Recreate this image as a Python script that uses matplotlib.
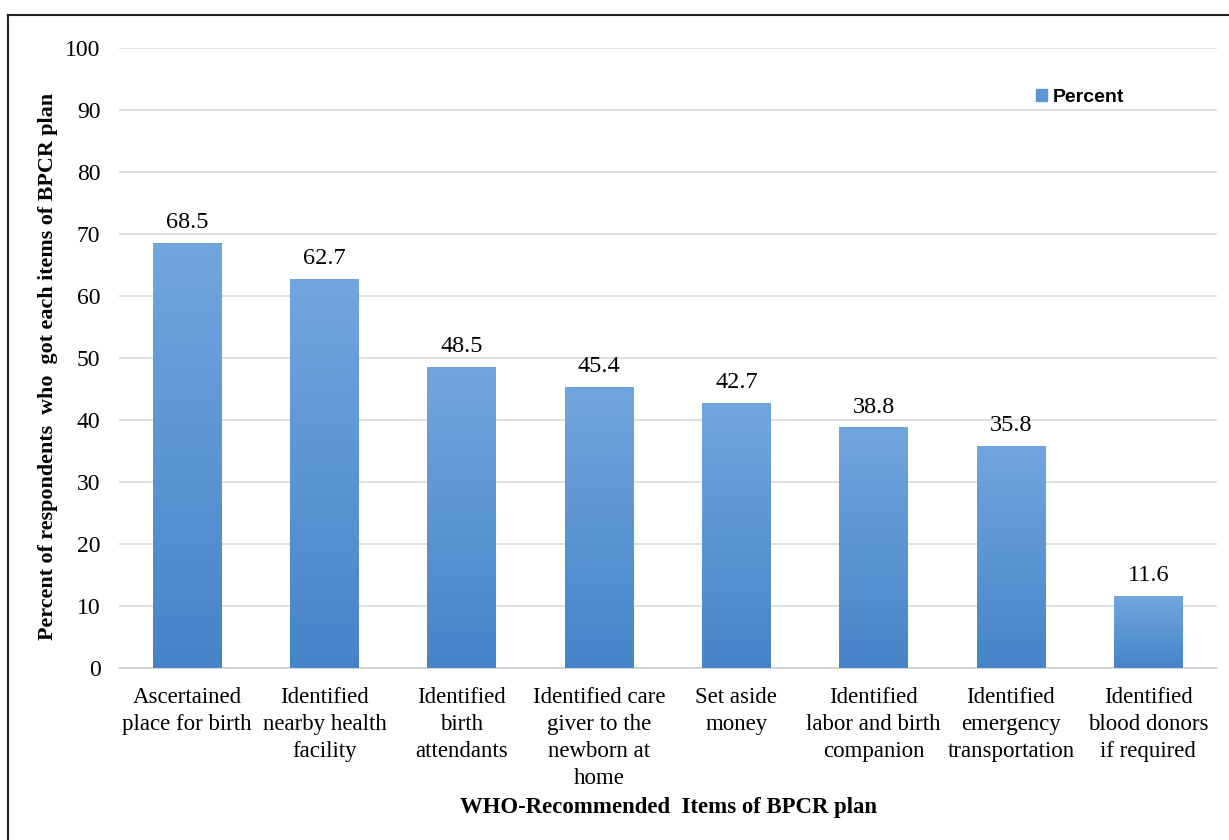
import numpy as np
import matplotlib.pyplot as plt
from matplotlib.colors import LinearSegmentedColormap
from matplotlib.patches import Patch
from matplotlib.lines import Line2D

# data
items = ['Ascertained\nplace for birth', 'Identified\nnearby health\nfacility',
         'Identified\nbirth\nattendants', 'Identified care\ngiver to the\nnewborn at\nhome',
         'Set aside\nmoney', 'Identified\nlabor and birth\ncompanion',
         'Identified\nemergency\ntransportation', 'Identified\nblood donors\nif required']
percent = [68.5, 62.7, 48.5, 45.4, 42.7, 38.8, 35.8, 11.6]
yticks = list(range(0, 101, 10))

serif = ['Liberation Serif', 'DejaVu Serif']
plt.rcParams['font.family'] = serif

fig = plt.figure(figsize=(12.29, 8.4), dpi=100)
ax = fig.add_axes([118.5 / 1229, 1 - 668 / 840, (1217 - 118.5) / 1229, 620 / 840])

x = np.arange(len(items))
bars = ax.bar(x, percent, width=0.5, color='#5b95d4', zorder=3)

# vertical gradient inside each bar (lighter at top)
cmap = LinearSegmentedColormap.from_list('g', ['#4684c8', '#72a6de'])
grad = np.linspace(0, 1, 256).reshape(-1, 1)
for b in bars:
    x0, w, h = b.get_x(), b.get_width(), b.get_height()
    im = ax.imshow(grad, cmap=cmap, origin='lower', aspect='auto',
                   extent=[x0, x0 + w, 0, h], zorder=4)
    im.set_clip_path(b)
    ax.text(x0 + w / 2, h + 1.6, f'{h:.1f}', ha='center', va='bottom',
            fontsize=17.5, zorder=5)

ax.set_xlim(-0.5, len(items) - 0.5)
ax.set_ylim(0, 100)
ax.set_yticks(yticks)
ax.set_yticklabels([str(t) for t in yticks], fontsize=17)
ax.set_xticks(x)
ax.set_xticklabels(items, fontsize=16.5, linespacing=1.36)
ax.tick_params(length=0)
ax.tick_params(axis='y', pad=13)
ax.tick_params(axis='x', pad=14)
ax.yaxis.grid(True, color='#d9d9d9', linewidth=1.2, zorder=0)
for s in ['top', 'right', 'left']:
    ax.spines[s].set_visible(False)
ax.spines['bottom'].set_color('#d0d0d0')
ax.spines['bottom'].set_linewidth(1.2)

ax.set_ylabel('Percent of respondents  who  got each items of BPCR plan',
              fontsize=15.8, fontweight='bold')
ax.yaxis.set_label_coords(-0.055, 0.487)
fig.text(668.5 / 1229, 1 - 808 / 840, 'WHO-Recommended  Items of BPCR plan',
         ha='center', va='center', fontsize=16.4, fontweight='bold')

leg = ax.legend(handles=[Patch(color='#5b95d4', label='Percent')],
                loc='center left', bbox_to_anchor=(0.8195, 0.92), frameon=False,
                handlelength=0.55, handleheight=0.55, handletextpad=0.3,
                prop={'family': ['Liberation Sans', 'DejaVu Sans'],
                      'weight': 'bold', 'size': 14})

# frame lines on the left and top of the figure
fig.add_artist(Line2D([8 / 1229, 8 / 1229], [0, 1 - 15 / 840], color='#222222',
                      linewidth=1.5, transform=fig.transFigure))
fig.add_artist(Line2D([8 / 1229, 1], [1 - 15 / 840, 1 - 15 / 840], color='#222222',
                      linewidth=1.5, transform=fig.transFigure))

fig.savefig('out.png', dpi=100)
